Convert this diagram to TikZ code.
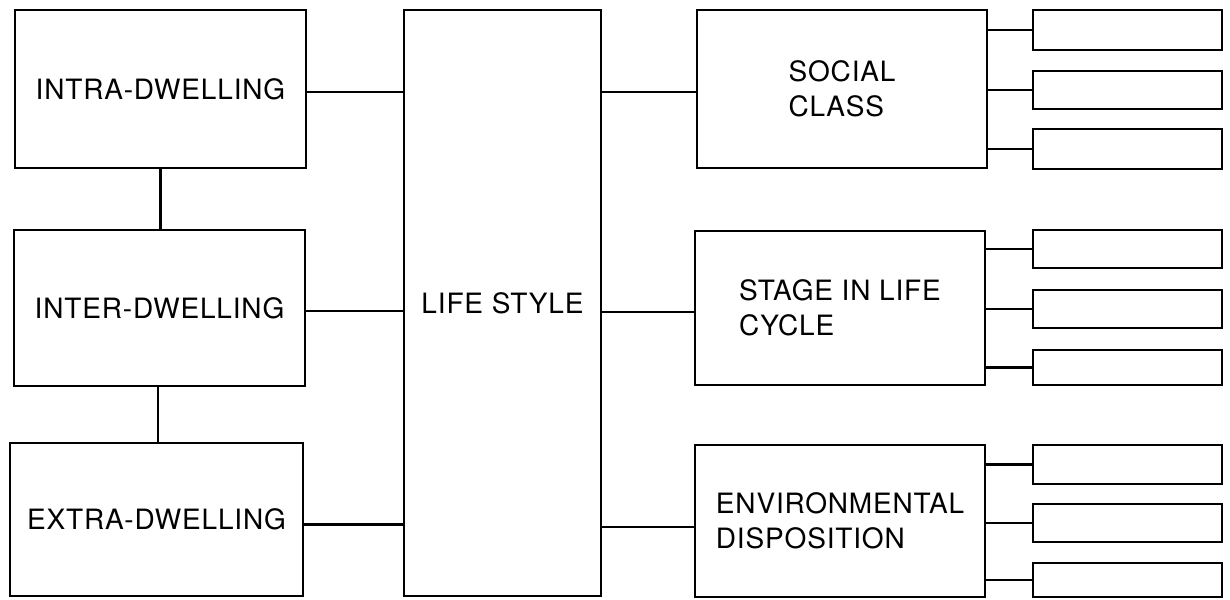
\documentclass[tikz,border=0pt]{standalone}
\usepackage{fontspec}
\setmainfont{TeX Gyre Heros}[LetterSpace=3]
\begin{document}
\begin{tikzpicture}[x=1pt,y=-1pt,
  box/.style={draw,line width=2.8pt,inner sep=0pt,font=\fontsize{28}{35}\selectfont},
  sub/.style={draw,line width=2.8pt,inner sep=0pt,minimum width=189pt},
  link/.style={line width=2.3pt}]
\useasboundingbox (0,0) rectangle (1230,599);

% left column
\node[box,minimum width=291pt,minimum height=158pt] (intra) at (160.5,89) {INTRA-DWELLING};
\node[box,minimum width=291pt,minimum height=156pt] (inter) at (159.5,308) {INTER-DWELLING};
\node[box,minimum width=293pt,minimum height=153pt] (extra) at (156.5,519.5) {EXTRA-DWELLING};

% central box
\node[box,minimum width=197pt,minimum height=586pt] (life) at (502.5,303) {LIFE STYLE};

% right column
\node[box,minimum width=290pt,minimum height=158pt,align=left] (social) at (842,89) {SOCIAL\\CLASS};
\node[box,minimum width=290pt,minimum height=154pt,align=left] (stage) at (840,308) {STAGE IN LIFE\\CYCLE};
\node[box,minimum width=290pt,minimum height=152pt,align=left] (env) at (840,521) {ENVIRONMENTAL\\DISPOSITION};

% sub-boxes
\node[sub,minimum height=40pt] (a1) at (1127.5,30) {};
\node[sub,minimum height=38pt] (a2) at (1127.5,90) {};
\node[sub,minimum height=40pt] (a3) at (1127.5,149) {};
\node[sub,minimum height=38pt] (b1) at (1127.5,249) {};
\node[sub,minimum height=38pt] (b2) at (1127.5,309) {};
\node[sub,minimum height=35pt] (b3) at (1127.5,367.5) {};
\node[sub,minimum height=39pt] (c1) at (1127.5,464.5) {};
\node[sub,minimum height=38pt] (c2) at (1127.5,523) {};
\node[sub,minimum height=34pt] (c3) at (1127.5,580) {};

% vertical links between the dwelling levels
\draw[link] (intra.south) -- (intra.south |- inter.north);
\draw[link] ([xshift=-1.5pt]inter.south) -- ([xshift=-1.5pt]inter.south |- extra.north);

% links into the central box
\draw[link] ([yshift=-3pt]intra.east) -- ([yshift=-3pt]intra.east -| life.west);
\draw[link] ([yshift=-3pt]inter.east) -- ([yshift=-3pt]inter.east -| life.west);
\draw[link] ([yshift=-5pt]extra.east) -- ([yshift=-5pt]extra.east -| life.west);

% links out of the central box
\draw[link] ([yshift=-3pt]social.west) -- ([yshift=-3pt]social.west -| life.east);
\draw[link] ([yshift=-4pt]stage.west) -- ([yshift=-4pt]stage.west -| life.east);
\draw[link] ([yshift=-6pt]env.west) -- ([yshift=-6pt]env.west -| life.east);

% links to the sub-boxes
\foreach \s/\p in {a1/social,a2/social,a3/social,b1/stage,b2/stage,b3/stage,c1/env,c2/env,c3/env}
  \draw[link] (\s.west) -- (\s.west -| \p.east);
\end{tikzpicture}
\end{document}
